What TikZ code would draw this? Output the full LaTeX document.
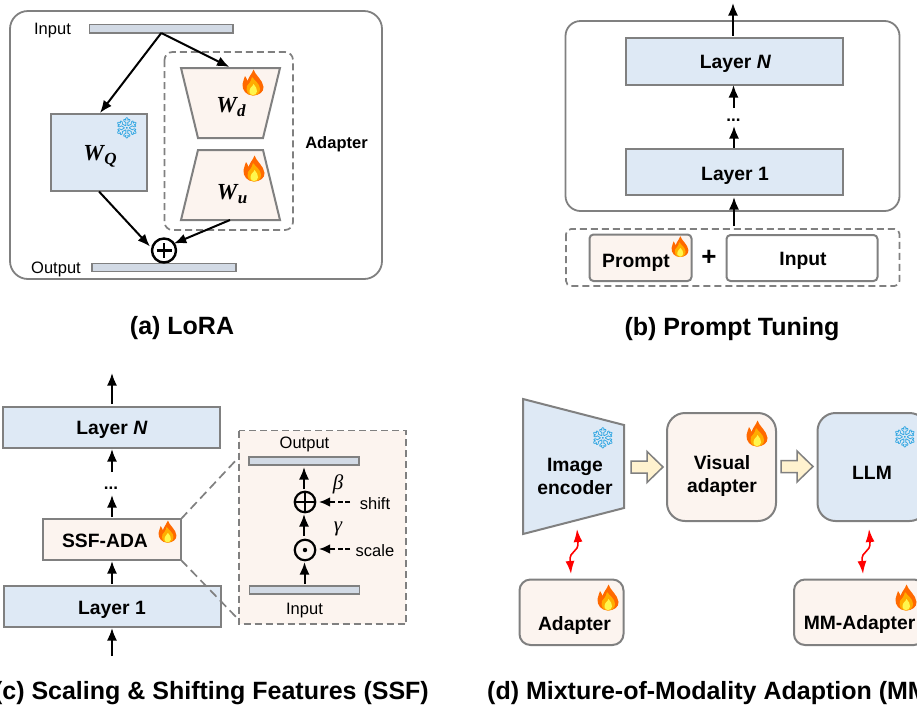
\documentclass[tikz,border=0pt]{standalone}
\usepackage{fontspec}
\setmainfont{Liberation Sans}
\newfontfamily\mserif{Liberation Serif}
\newfontfamily\emojifont{Noto Emoji}
\usetikzlibrary{arrows.meta}
\definecolor{edgegray}{HTML}{808080}
\definecolor{blueF}{HTML}{DEE9F5}
\definecolor{peachF}{HTML}{FCF4EF}
\definecolor{barF}{HTML}{D2DAE5}
\definecolor{fatF}{HTML}{FFF2CF}
\definecolor{snowC}{HTML}{1E9FE0}
\newcommand{\tsz}[1]{\fontsize{#1}{#1}\selectfont}
\newcommand{\wlab}[2]{{\mserif\bfseries\itshape\tsz{23}#1\kern0.5pt\raisebox{-4pt}{\tsz{17}#2}}}
\tikzset{
  x=1pt,y=-1pt,
  boxn/.style={draw=edgegray,line width=2pt,inner sep=0pt,outer sep=0pt,align=center},
  blueb/.style={boxn,fill=blueF},
  peachb/.style={boxn,fill=peachF},
  barn/.style={draw=edgegray,line width=1.3pt,fill=barF,inner sep=0pt,outer sep=0pt},
  panel/.style={draw=edgegray,line width=1.8pt,rounded corners=#1},
  dashbox/.style={draw=edgegray,line width=1.7pt,dash pattern=on 7pt off 4pt,rounded corners=#1},
  trap/.style={draw=edgegray,line width=2pt,fill=#1,line join=miter},
  arr/.style={-{Latex[length=12.5pt,width=10pt]},line width=2pt,black},
  darr/.style={-{Latex[length=11pt,width=9.5pt]},line width=1.7pt,black,dash pattern=on 5pt off 2.5pt},
  redarr/.style={{Latex[length=13pt,width=9pt]}-{Latex[length=13pt,width=9pt]},line width=1.6pt,red},
  zoomline/.style={draw=edgegray,line width=1.7pt,dash pattern=on 9pt off 5pt},
  plain/.style={font=\tsz{16.5},inner sep=0pt},
  bold/.style={font=\bfseries\tsz{19.3},inner sep=0pt,align=center},
  capt/.style={font=\bfseries\tsz{25},inner sep=0pt},
  opn/.style={draw=black,circle,inner sep=0pt,outer sep=0pt,line width=#1},
  snow/.style={font=\emojifont\tsz{21},text=snowC,inner sep=0pt},
  fat/.style={draw=edgegray,line width=1.5pt,fill=fatF,line join=miter},
  flame/.pic={
    \fill[red!18!orange] (0,12.5) .. controls (-7,12.5) and (-11,7) .. (-10.5,1)
      .. controls (-10.3,-2) and (-8.5,-4) .. (-8,-7) .. controls (-6.5,-5) and (-6,-3.5) .. (-5.5,-2)
      .. controls (-4,-7) and (-1,-9) .. (0.5,-13.5) .. controls (2,-8) and (10,-3) .. (10.5,4)
      .. controls (10.8,9) and (6,12.5) .. (0,12.5) -- cycle;
    \fill[orange!65!yellow] (0,12.5) .. controls (-5,12.5) and (-7.5,8) .. (-6,3)
      .. controls (-4.5,1) and (-2,-1) .. (-1,-6) .. controls (2,-2) and (7,1) .. (7,6)
      .. controls (7,10) and (4,12.5) .. (0,12.5) -- cycle;
    \fill[yellow!70!white] (0,12) .. controls (-3.5,12) and (-4.5,8) .. (-2.5,5)
      .. controls (-1,3.5) and (0,2.5) .. (0.5,1) .. controls (2.5,3.5) and (4.5,6) .. (4,8.5)
      .. controls (3.5,11) and (2,12) .. (0,12) -- cycle;
  },
  fatarrow/.pic={
    \draw[fat] (0,-6) -- (16,-6) -- (16,-15.5) -- (32,0) -- (16,15.5) -- (16,6) -- (0,6) -- cycle;
  },
}
\begin{document}
\begin{tikzpicture}
\clip (0,0) rectangle (917,705);
\fill[white] (0,0) rectangle (917,705);

%% ---------- (a) LoRA
\draw[panel=18pt] (10,11) rectangle (382,279);
\node[barn,minimum width=143.5pt,minimum height=8.5pt] (ainbar) at (161.25,28.75) {};
\node[barn,minimum width=144pt,minimum height=8.5pt] (aoutbar) at (164,267.5) {};
\node[plain] (ainlab) at (52.5,30.5) {Input};
\node[plain] (aoutlab) at (56,269.5) {Output};
\node[blueb,minimum width=95.5pt,minimum height=77pt] (wq) at (98.75,152.5) {};
\node (wqlab) at (100,156.5) {\wlab{W}{Q}};
\node[snow] (wqsnow) at (127,128) {❄};
\draw[dashbox=8pt] (164.5,52) rectangle (293,230);
\draw[trap=peachF] (181,68) -- (280,68) -- (263,138) -- (198,138) -- cycle;
\draw[trap=peachF] (198,150) -- (263,150) -- (280,220) -- (181,220) -- cycle;
\coordinate (wdtop) at (229.5,67);
\coordinate (wubot) at (230,220);
\node (wdlab) at (231,107.5) {\wlab{W}{d}};
\node (wulab) at (232,194.5) {\wlab{W}{u}};
\pic at (253,83) {flame};
\pic at (254,169) {flame};
\node[font=\bfseries\tsz{16.5},inner sep=0pt] (adlab) at (336.5,144) {Adapter};
\node[opn=2.4pt,minimum size=24pt] (aplus) at (164,250.5) {};
\draw[line width=2.6pt,black] (156.5,250.5) -- (171.5,250.5) (164,243) -- (164,258);
\coordinate (afork) at (161.25,33);
\draw[arr] (afork) -- (100,113);
\draw[arr] (afork) -- (wdtop);
\draw[arr] (99,191.5) -- (150,246.5);
\draw[arr] (wubot) -- (aplus.35);
\node[capt] (acap) at (182,328) {(a) LoRA};

%% ---------- (b) Prompt Tuning
\draw[panel=15pt] (565.5,21) rectangle (899.5,211);
\node[blueb,minimum width=217pt,minimum height=46.5pt] (bln) at (734.5,61.5) {};
\node[bold] at (735.5,64) {Layer \textit{N}};
\node[blueb,minimum width=217pt,minimum height=46pt] (bl1) at (734.5,172) {};
\node[bold] at (735,175.5) {Layer 1};
\coordinate (btop) at (733,3);
\coordinate (btopS) at (733,36);
\draw[arr] (btopS) -- (btop);
\coordinate (bd1) at (733.5,108);
\draw[arr] (bd1) -- (733.5,85);
\node[font=\bfseries\tsz{17},inner sep=0pt] (bdots) at (733.5,120) {...};
\coordinate (bd2) at (734,147.5);
\draw[arr] (bd2) -- (734,126);
\coordinate (bin) at (734,226);
\draw[arr] (bin) -- (734,197);
\draw[dashbox=5pt] (566,229) rectangle (899.5,286);
\node[peachb,rounded corners=4pt,minimum width=102pt,minimum height=46.5pt] (bprompt) at (640.5,257.75) {};
\node[bold] at (636,263) {Prompt};
\pic[scale=0.8] at (680,247) {flame};
\node[font=\bfseries\tsz{26},inner sep=0pt] (bplus) at (709,258) {+};
\node[boxn,fill=white,rounded corners=4pt,minimum width=151pt,minimum height=46pt] (binput) at (802,258) {};
\node[bold] at (803,261) {Input};
\node[capt] (bcap) at (732,329) {(b) Prompt Tuning};

%% ---------- (c) SSF
\node[blueb,minimum width=217pt,minimum height=41pt] (cln) at (111.5,427) {};
\node[bold] at (112,430) {Layer \textit{N}};
\node[peachb,minimum width=138.5pt,minimum height=41pt] (cssf) at (111.75,539.5) {};
\node[bold] at (105,540.5) {SSF-ADA};
\pic[scale=0.85] at (167.5,532) {flame};
\node[blueb,minimum width=217pt,minimum height=41pt] (cl1) at (112.5,606.5) {};
\node[bold] at (112,609.5) {Layer 1};
\draw[arr] (112,404) -- (112,373);
\draw[arr] (112,472) -- (112,449);
\node[font=\bfseries\tsz{17},inner sep=0pt] (cdots) at (111,488) {...};
\draw[arr] (112,517) -- (112,495);
\draw[arr] (112,584) -- (112,561);
\draw[arr] (112,656) -- (112,628);
\draw[dashbox=0pt,fill=peachF] (239,430.5) rectangle (406,624);
\draw[zoomline] (cssf.north east) -- (239,457);
\draw[zoomline] (cssf.south east) -- (239,620);
\node[plain] (coutlab) at (304.5,444.5) {Output};
\node[barn,minimum width=110pt,minimum height=8pt] (coutbar) at (304,461) {};
\node[barn,minimum width=110pt,minimum height=8pt] (cinbar) at (304.5,590) {};
\node[plain] (cinlab) at (304.5,610.5) {Input};
\node[opn=2.2pt,minimum size=20.5pt] (cplus) at (305,502) {};
\draw[line width=1.9pt,black] (cplus.west) -- (cplus.east) (cplus.north) -- (cplus.south);
\node[opn=2.2pt,minimum size=20.5pt] (cdot) at (305,550) {};
\fill[black] (cdot.center) circle (2.2pt);
\draw[arr] (304,489) -- (304,467);
\draw[arr] (304,536) -- (304,514);
\draw[arr] (304.5,584) -- (304.5,562);
\node[plain] (cshift) at (375,504) {shift};
\node[plain] (cscale) at (375,550.5) {scale};
\draw[darr] (350,502) -- (319,502);
\draw[darr] (350,549) -- (319,549);
\node[font=\mserif\itshape\tsz{21},inner sep=0pt] (cbeta) at (338,484) {β};
\node[font=\mserif\itshape\tsz{21},inner sep=0pt] (cgamma) at (338,529) {γ};
\node[capt,anchor=east] (ccap) at (429,693) {(c) Scaling \& Shifting Features (SSF)};

%% ---------- (d) MMA
\draw[trap=blueF] (523,399) -- (624,425) -- (624,508) -- (523,534) -- cycle;
\node[bold] (denc) at (575,476.5) {Image\\[3pt]encoder};
\node[snow] (dencs) at (603,438) {❄};
\pic at (631,467) {fatarrow};
\node[peachb,rounded corners=18pt,minimum width=109pt,minimum height=108pt] (dvis) at (721.5,467) {};
\node[bold] (dvislab) at (722,476) {Visual\\[3pt]adapter};
\pic at (757,434) {flame};
\pic at (781,466.5) {fatarrow};
\node[blueb,rounded corners=18pt,minimum width=110pt,minimum height=108pt] (dllm) at (872.5,467) {};
\node[bold] (dllmlab) at (872,473) {LLM};
\node[snow] (dllms) at (905,437) {❄};
\node[peachb,rounded corners=11pt,minimum width=104pt,minimum height=65.5pt] (dad) at (571.5,612.25) {};
\node[bold] (dadlab) at (574.5,625) {Adapter};
\pic at (608,598) {flame};
\node[peachb,rounded corners=11pt,minimum width=131pt,minimum height=65.5pt] (dmm) at (859.5,612.25) {};
\node[bold] (dmmlab) at (859.5,624.5) {MM-Adapter};
\pic at (906,598) {flame};
\coordinate (dr1a) at (577,529);
\coordinate (dr1b) at (571,574);
\coordinate (dr2a) at (869,529);
\coordinate (dr2b) at (863,574);
\draw[redarr] (dr1a) .. controls (579,554) and (569,549) .. (dr1b);
\draw[redarr] (dr2a) .. controls (871,554) and (861,549) .. (dr2b);
\node[capt,anchor=west] (dcap) at (487,693) {(d) Mixture-of-Modality Adaption (MMA)};
\end{tikzpicture}
\end{document}
